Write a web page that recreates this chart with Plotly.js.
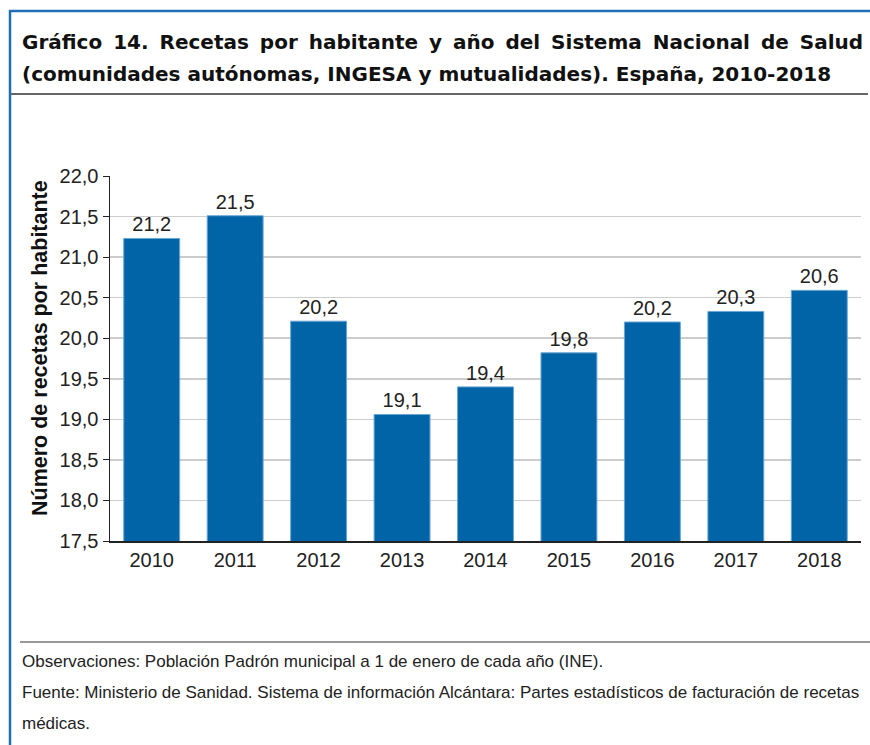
<!DOCTYPE html>
<html>
<head>
<meta charset="utf-8">
<script src="https://cdn.plot.ly/plotly-3.0.1.min.js"></script>
<style>
  html, body { margin: 0; padding: 0; background: #fff; }
  #chart { width: 870px; height: 745px; }
</style>
</head>
<body>
<div id="chart"></div>
<script>
// ---- data ----
const years = ['2010', '2011', '2012', '2013', '2014', '2015', '2016', '2017', '2018'];
const recetas = [21.23, 21.51, 20.21, 19.06, 19.40, 19.82, 20.20, 20.33, 20.59];
const labels = ['21,2', '21,5', '20,2', '19,1', '19,4', '19,8', '20,2', '20,3', '20,6'];
const yTicks = [17.5, 18.0, 18.5, 19.0, 19.5, 20.0, 20.5, 21.0, 21.5, 22.0];
const yTickText = ['17,5', '18,0', '18,5', '19,0', '19,5', '20,0', '20,5', '21,0', '21,5', '22,0'];

const titleWords1 = ['Gráfico', '14.', 'Recetas', 'por', 'habitante', 'y', 'año', 'del', 'Sistema', 'Nacional', 'de', 'Salud'];
const titleLine2 = '(comunidades autónomas, INGESA y mutualidades). España, 2010-2018';
const yTitle = 'Número de recetas por habitante';
const note1 = 'Observaciones: Población Padrón municipal a 1 de enero de cada año (INE).';
const note2 = 'Fuente: Ministerio de Sanidad. Sistema de información Alcántara: Partes estadísticos de facturación de recetas';
const note3 = 'médicas.';

// ---- geometry helpers (pixel -> paper) ----
const W = 870, H = 745;
const M = { l: 110, r: 9, t: 176, b: 204 };
const PW = W - M.l - M.r, PH = H - M.t - M.b;
const px = x => (x - M.l) / PW;
const py = y => (H - M.b - y) / PH;

const baseFont = 'Liberation Sans, Arial, sans-serif';

const trace = {
  type: 'bar',
  x: years,
  y: recetas,
  text: labels,
  textposition: 'outside',
  cliponaxis: false,
  textfont: { family: baseFont, size: 20, color: '#222' },
  marker: { color: '#0064a6', line: { color: '#6aa6d6', width: 1 } },
  width: 0.67,
  hoverinfo: 'x+y'
};

const titleFont = { family: 'DejaVu Sans, sans-serif', size: 20, color: '#111', weight: 'bold' };
const noteFont = { family: baseFont, size: 17, color: '#222' };

const layout = {
  width: W, height: H,
  margin: M,
  paper_bgcolor: '#fff',
  plot_bgcolor: '#fff',
  showlegend: false,
  xaxis: {
    type: 'category',
    showline: true, linecolor: '#222', linewidth: 1.5,
    ticks: '', showgrid: false,
    tickfont: { family: baseFont, size: 20, color: '#222' },
    ticklabelstandoff: 0
  },
  yaxis: {
    range: [17.5, 22.0],
    tickvals: yTicks,
    ticktext: yTickText,
    showline: true, linecolor: '#222', linewidth: 1.5,
    ticks: 'outside', ticklen: 6, tickcolor: '#222', tickwidth: 1,
    showgrid: true, gridcolor: '#cccccc', gridwidth: 1.5,
    zeroline: false,
    tickfont: { family: baseFont, size: 20, color: '#222' }
  },
  annotations: [
    { xref: 'paper', yref: 'paper', x: px(20), y: py(42), xanchor: 'left', yanchor: 'middle',
      text: '<b>' + titleWords1.join(' \u2009') + '</b>', showarrow: false, font: titleFont },
    { xref: 'paper', yref: 'paper', x: px(20), y: py(74), xanchor: 'left', yanchor: 'middle',
      text: '<b>' + titleLine2 + '</b>', showarrow: false, font: titleFont },
    { xref: 'paper', yref: 'paper', x: px(40), y: py(348), xanchor: 'center', yanchor: 'middle',
      textangle: -90,
      text: '<b>' + yTitle + '</b>', showarrow: false,
      font: { family: baseFont, size: 21.5, color: '#111' } },
    { xref: 'paper', yref: 'paper', x: px(20), y: py(661), xanchor: 'left', yanchor: 'middle',
      text: note1, showarrow: false, font: noteFont },
    { xref: 'paper', yref: 'paper', x: px(20), y: py(692), xanchor: 'left', yanchor: 'middle',
      text: note2, showarrow: false, font: noteFont },
    { xref: 'paper', yref: 'paper', x: px(20), y: py(723), xanchor: 'left', yanchor: 'middle',
      text: note3, showarrow: false, font: noteFont }
  ],
  shapes: [
    // blue frame: top and left
    { type: 'line', xref: 'paper', yref: 'paper', x0: px(9), x1: px(870), y0: py(11), y1: py(11),
      line: { color: '#1f6fb5', width: 2.5 } },
    { type: 'line', xref: 'paper', yref: 'paper', x0: px(10), x1: px(10), y0: py(10), y1: py(745),
      line: { color: '#1f6fb5', width: 2.5 } },
    // title underline
    { type: 'line', xref: 'paper', yref: 'paper', x0: px(11), x1: px(868), y0: py(94), y1: py(94),
      line: { color: '#666', width: 2 } },
    // footer rule
    { type: 'line', xref: 'paper', yref: 'paper', x0: px(20), x1: px(870), y0: py(642), y1: py(642),
      line: { color: '#333', width: 1 } }
  ]
};

Plotly.newPlot('chart', [trace], layout, { displayModeBar: false, staticPlot: true });
</script>
</body>
</html>
